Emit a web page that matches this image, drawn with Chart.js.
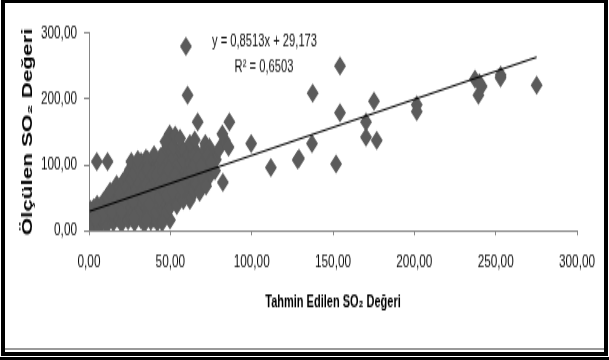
<!DOCTYPE html>
<html>
<head>
<meta charset="utf-8">
<script src="https://cdn.jsdelivr.net/npm/chart.js@4.4.0/dist/chart.umd.min.js"></script>
<style>
html,body{margin:0;padding:0;background:#fff;overflow:hidden;width:609px;height:360px;}
#wrap{position:absolute;left:0;top:0;width:609px;height:225px;transform:scale(1,1.6);transform-origin:0 0;}
canvas{display:block;}
#frame{position:absolute;left:1px;top:0;width:607px;height:356px;box-sizing:border-box;border:4px solid #000;border-top-width:3px;pointer-events:none;}
#gray{position:absolute;left:5px;top:348px;width:599px;height:2px;background:#9a9a9a;}
#outer{position:absolute;left:0;top:357px;width:609px;height:3px;background:#000;}
</style>
</head>
<body>
<div id="wrap"><canvas id="c" width="609" height="225"></canvas></div>
<div id="gray"></div>
<div id="frame"></div>
<div id="outer"></div>
<script>
// ---- data (x = predicted SO2, y = measured SO2) ----
const predicted = [
  0.5,1.5,2.5,3.5,5,6,7,8.5,10,11,13,15,16,18,20,22,24,26,28,30,32,34,36,38,40,42,44,46,49.8,
  1,3,5,7,9,12,14,16,18,20,22,12,15,18,21,24,26,28,30,32,
  17,19,21,23,25,26,24,27,29,30,31,33,34,35,36,37,38,39,40,41,42,43,44,45,46,47,48,49,49.6,50,
  51,52,53,54,55,56,57,58,59,60,61,62,63,64,65,66,67,68,69,70,71,72,73,74,75,76,77.5,78,80,82.3,
  27,29,31,33,35,37,39,41,43,45,47,48,50,52,54,56,58,60,62.5,64,66,68,70,72,
  32,34,36,38,40,42,44,46,48,50,52,54,56,58,60,62,64,44,40,36,47,52,53,71.5,74,69,57,
  9,11,13,14,17,19,20,22,23,25,26,27,28,29,30,31,32,33,34,35,36,37,38,39,40,41,42,43,44,45,
  46,47,48,49,50,51,53,55,57,59,61,63,65,67,69,73,75,62,65,56,30,28,35,45,8,4,
  4.8,11.4,59.6,60.6,66.8,86.3,83.5,85.8,82,99.7,111.8,128.3,137.5,154.3,154.3,175.2,170.3,170.3,
  176.9,137.1,129.1,151.9,201.5,201.5,237.3,241.4,239.4,240,253.1,253,275.2
];
const measured = [
  10,18,6,25,12,4,20,14,28,8,22,12,30,18,10,26,15,20,12,24,16,10,22,14,18,12,24,20,16,
  32,35,40,38,45,48,42,55,50,62,58,35,38,34,40,44,36,30,40,34,
  70,66,75,82,92,104.6,70,60,78,88,52,95,65,110,80,58,100,72,90,46,105,62,84,112,52,96,74,130,147,108,
  140,88,66,118,44,100,80,122,92,58,110,46,74,96,62,120,86,104,72,112,92,128,100,82,118,96,91,108,124,73,
  28,45,30,42,36,28,44,30,38,34,42,28,36,48,38,55,46,64,50,61,70,58,80,68,
  105,98,102,88,108,95,100,118,102,124,110,95,124,108,118,102,115,112,115,108,135,128,145,132,127,114,127,
  30,52,60,28,44,56,30,48,66,54,78,46,88,62,98,72,58,84,48,70,92,40,64,84,56,74,84,50,68,90,
  62,80,52,92,70,60,84,72,64,76,84,90,100,110,98,114,104,132,138,140,108,20,16,12,22,18,
  105,105,280,206,165,165,137,127,147,132,96,107.5,209,250,179,197,165,142,
  137,132,110,101,191,181,230,219,206,225,236,232,221
];
const xTickValues = [0,50,100,150,200,250,300];
const yTickValues = [0,100,200,300];
const trendSlope = 0.8513;
const trendIntercept = 29.173;
const equationText = 'y = 0,8513x + 29,173';
const r2Text = 'R² = 0,6503';
const xTitle = 'Tahmin Edilen SO₂ Değeri';
const yTitle = 'Ölçülen SO₂ Değeri';

// ---- build datasets ----
const points = predicted.map((x, i) => ({x: x, y: measured[i]}));
const xMin = Math.min(...predicted), xMax = Math.max(...predicted);
const trend = [xMin, xMax].map(x => ({x: x, y: trendSlope * x + trendIntercept}));

const fmt = v => Number(v).toFixed(2).replace('.', ',');
const SANS = '"Liberation Sans", Arial, sans-serif';
const tickFont = {family: SANS, size: 11.8};

const annot = {
  id: 'annot',
  beforeDraw(chart) {
    const ctx = chart.ctx;
    ctx.save();
    ctx.fillStyle = '#fff';
    ctx.fillRect(0, 0, chart.width, chart.height);
    ctx.restore();
  },
  afterDraw(chart) {
    const ctx = chart.ctx;
    ctx.save();
    ctx.font = '11.2px ' + SANS;
    ctx.fillStyle = '#111';
    ctx.textAlign = 'center';
    ctx.textBaseline = 'middle';
    ctx.fillText(equationText, 264.5, 25.5);
    ctx.fillText(r2Text, 264, 42.2);
    ctx.restore();
  }
};

new Chart(document.getElementById('c'), {
  type: 'scatter',
  data: {
    datasets: [
      {
        label: 'points',
        data: points,
        pointStyle: 'rectRot',
        pointRadius: 6,
        backgroundColor: '#5b5b5b',
        borderColor: '#5b5b5b',
        borderWidth: 0,
        order: 2
      },
      {
        type: 'line',
        label: 'trend',
        data: trend,
        borderColor: '#000',
        borderWidth: 1.1,
        pointRadius: 0,
        fill: false,
        order: 1
      }
    ]
  },
  options: {
    responsive: false,
    animation: false,
    devicePixelRatio: 1,
    events: [],
    layout: {padding: {top: 20.8, right: 32, bottom: 0, left: 0}},
    plugins: {legend: {display: false}, tooltip: {enabled: false}},
    scales: {
      x: {
        type: 'linear',
        min: 0, max: 300,
        afterBuildTicks: s => { s.ticks = xTickValues.map(v => ({value: v})); },
        afterFit: s => { s.height = 80.9; },
        ticks: {callback: v => fmt(v), font: tickFont, color: '#111', padding: 10, maxRotation: 0},
        grid: {display: true, drawOnChartArea: false, drawTicks: true, tickLength: 3, color: '#868686', lineWidth: 1},
        border: {display: true, color: '#868686', width: 1},
        title: {display: true, text: xTitle, color: '#000',
                font: {family: SANS, size: 11, weight: 'bold'},
                padding: {top: 0, bottom: 29}}
      },
      y: {
        type: 'linear',
        min: 0, max: 300,
        afterBuildTicks: s => { s.ticks = yTickValues.map(v => ({value: v})); },
        afterFit: s => { s.width = 89; },
        ticks: {callback: v => fmt(v), font: tickFont, color: '#111', padding: 7},
        grid: {display: true, drawOnChartArea: false, drawTicks: true, tickLength: 5, color: '#868686', lineWidth: 1},
        border: {display: true, color: '#868686', width: 1},
        title: {display: true, text: yTitle, color: '#000',
                font: {family: SANS, size: 14, weight: 'bold'},
                padding: {top: 20, bottom: 0}}
      }
    }
  },
  plugins: [annot]
});
</script>
</body>
</html>
